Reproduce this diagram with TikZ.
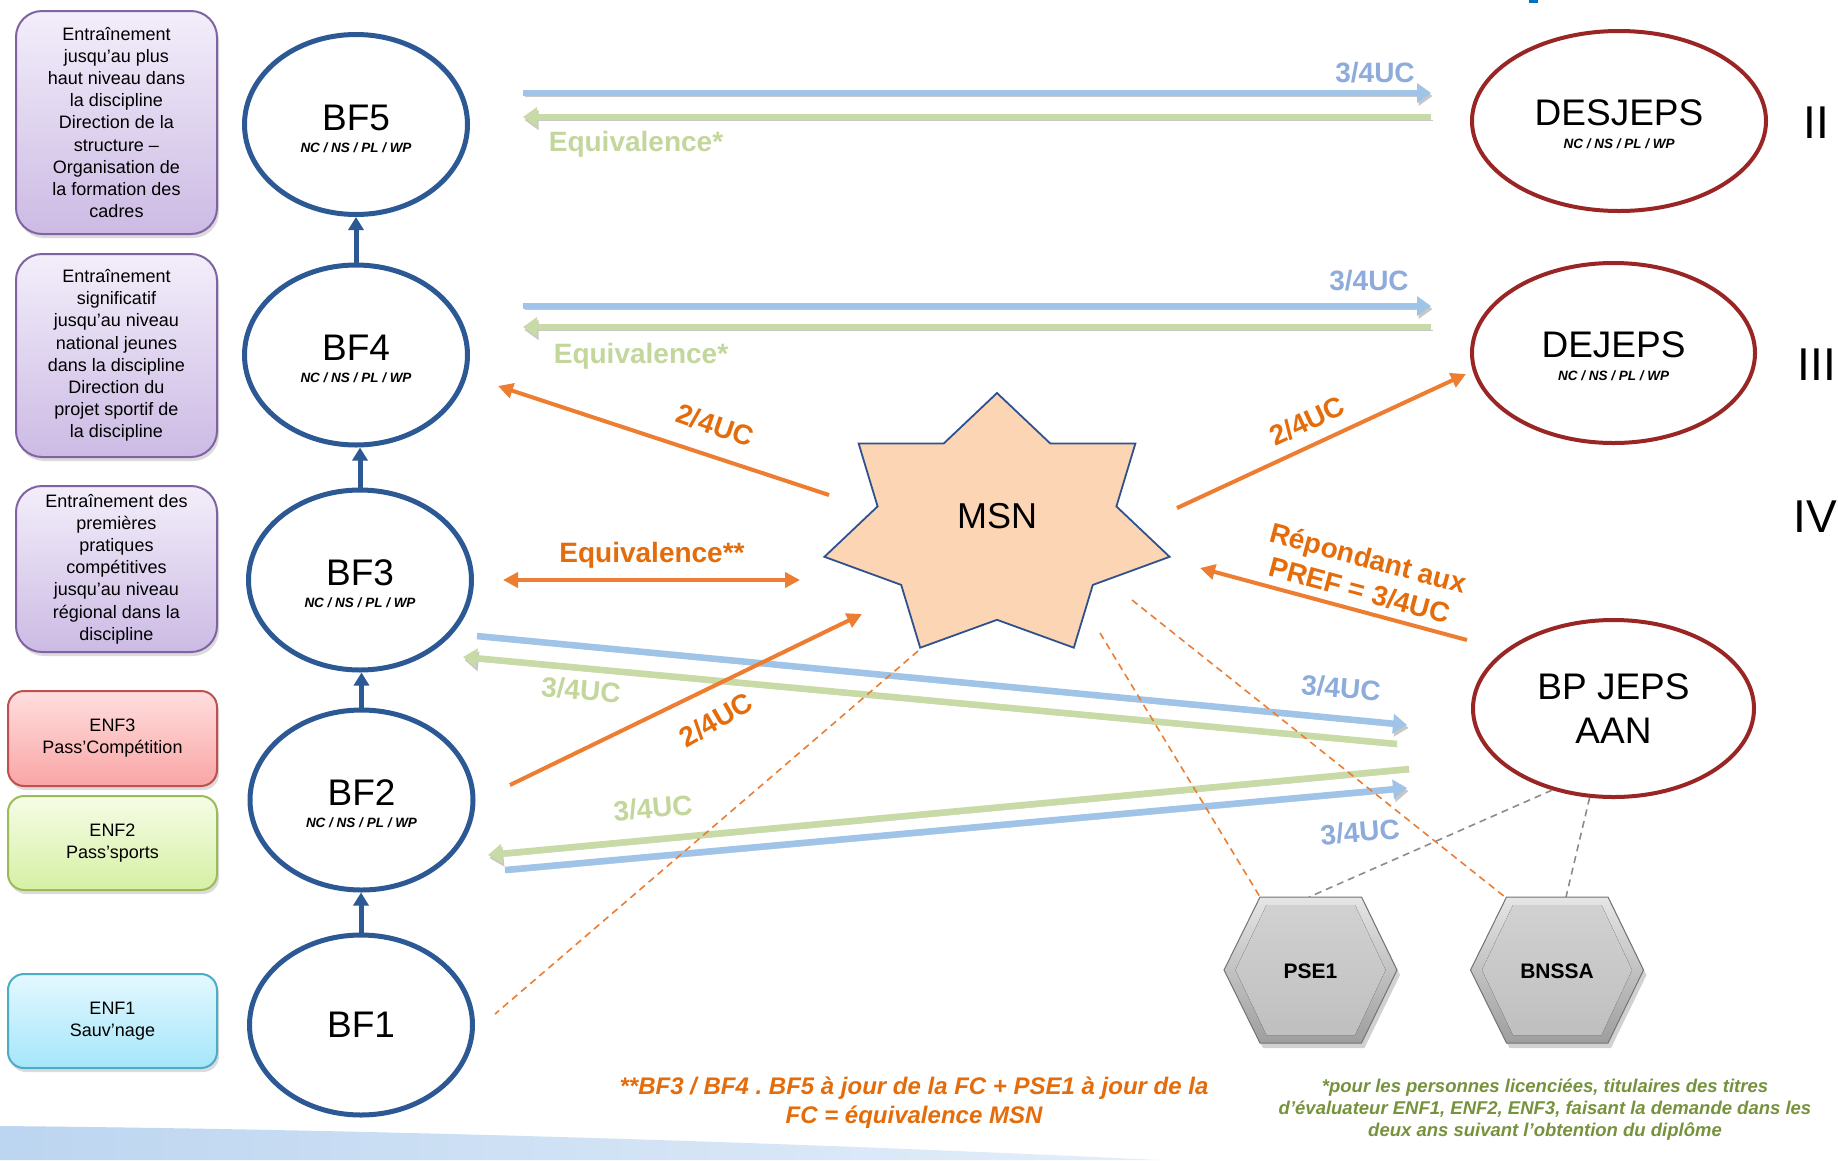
\documentclass[tikz,border=0pt]{standalone}
\usepackage{fontspec}
\setmainfont{Liberation Sans}
\usetikzlibrary{arrows.meta,shapes.geometric}
\definecolor{bfblue}{RGB}{44,88,148}
\definecolor{redel}{RGB}{153,37,37}
\definecolor{orarr}{RGB}{237,125,49}
\definecolor{ortxt}{RGB}{228,108,10}
\definecolor{lbarr}{RGB}{160,196,232}
\definecolor{lblab}{RGB}{141,172,219}
\definecolor{lgarr}{RGB}{200,218,165}
\definecolor{lglab}{RGB}{195,214,155}
\definecolor{fngreen}{RGB}{118,146,60}
\definecolor{purpd}{RGB}{128,100,162}
\definecolor{purpt}{RGB}{243,238,250}
\definecolor{purpb}{RGB}{204,186,228}
\definecolor{redd}{RGB}{192,80,77}
\definecolor{redt}{RGB}{255,222,222}
\definecolor{redb}{RGB}{250,165,165}
\definecolor{grnd}{RGB}{155,187,89}
\definecolor{grnt}{RGB}{246,252,230}
\definecolor{grnb}{RGB}{214,240,165}
\definecolor{cyad}{RGB}{75,172,198}
\definecolor{cyat}{RGB}{228,248,255}
\definecolor{cyab}{RGB}{165,230,250}
\definecolor{msnfill}{RGB}{252,213,181}
\definecolor{msnline}{RGB}{47,82,143}
\definecolor{wave}{RGB}{188,213,240}
\definecolor{titleblue}{RGB}{0,112,192}
\newcommand{\myfs}[2]{\fontsize{#1}{#2}\selectfont}
\frenchspacing
\begin{document}
\begin{tikzpicture}[x=1pt,y=-1pt,
  bfell/.style={ellipse, draw=bfblue, line width=5pt, minimum width=223pt, minimum height=180pt, inner sep=0pt, fill=white},
  redell/.style={ellipse, draw=redel, line width=4pt, minimum height=180pt, inner sep=0pt, fill=white},
  bigtxt/.style={font=\myfs{37}{44}, inner sep=0pt, align=center},
  subtxt/.style={font=\myfs{13.5}{15}\bfseries\itshape, inner sep=0pt},
  boxshadow/.style={preaction={fill=black!14, transform canvas={shift={(2,4)}}}},
  purpbox/.style={rectangle, rounded corners=26pt, line width=2pt, draw=purpd, top color=purpt, bottom color=purpb, align=center, font=\myfs{18}{22.2}, inner sep=0pt, minimum width=201pt, boxshadow},
  enfbox/.style={rectangle, rounded corners=16pt, line width=2pt, align=center, font=\myfs{18}{22}, inner sep=0pt, minimum width=209pt, minimum height=94pt, boxshadow},
  upar/.style={draw=bfblue, line width=5pt, -{Triangle[length=13pt,width=15pt]}},
  arrshadow/.style={preaction={draw=black!22, transform canvas={shift={(1.5,3)}}}},
  arrB/.style={draw=lbarr, line width=6.5pt, -{Triangle[length=14pt,width=19pt]}, arrshadow},
  arrG/.style={draw=lgarr, line width=6.5pt, -{Triangle[length=14pt,width=19pt]}, arrshadow},
  oarr/.style={draw=orarr, line width=4pt, -{Triangle[length=15pt,width=15pt]}},
  odash/.style={draw=orarr, line width=1.6pt, dash pattern=on 7pt off 5pt},
  gdash/.style={draw=black!45, line width=1.6pt, dash pattern=on 7pt off 5pt},
  lblB/.style={text=lblab, font=\myfs{28}{32}\bfseries, inner sep=0pt},
  lblG/.style={text=lglab, font=\myfs{28}{32}\bfseries, inner sep=0pt},
  olbl/.style={text=ortxt, font=\myfs{28}{33}\bfseries, inner sep=0pt}
]
\useasboundingbox (0,0) rectangle (1838,1160);
\fill[white] (0,0) rectangle (1838,1160);
% bottom wave
\shade[left color=wave, right color=wave!40] (0,1160) -- (0,1126) .. controls (420,1130) and (820,1144) .. (1160,1160) -- cycle;
\fill[titleblue] (1529,0) rectangle (1538,3);

% left boxes
\node[purpbox, minimum height=223pt] (b1) at (116.5,122.5) {Entraînement\\jusqu'au plus\\haut niveau dans\\la discipline\\Direction de la\\structure –\\Organisation de\\la formation des\\cadres};
\node[purpbox, minimum height=203pt] (b2) at (116.5,355.5) {Entraînement\\significatif\\jusqu'au niveau\\national jeunes\\dans la discipline\\Direction du\\projet sportif de\\la discipline};
\node[purpbox, minimum height=166pt] (b3) at (116.5,569) {Entraînement des\\premières\\pratiques\\compétitives\\jusqu'au niveau\\régional dans la\\discipline};
\node[enfbox, draw=redd, top color=redt, bottom color=redb, minimum height=95pt] (enf3) at (112.5,738.5) {ENF3\\Pass'Compétition};
\node[enfbox, draw=grnd, top color=grnt, bottom color=grnb] (enf2) at (112.5,843) {ENF2\\Pass'sports};
\node[enfbox, draw=cyad, top color=cyat, bottom color=cyab] (enf1) at (112.5,1021) {ENF1\\Sauv'nage};

% coordinates for free arrow ends
\coordinate (t1a) at (523,93);   \coordinate (t1b) at (1431,93);
\coordinate (t2a) at (1431,117); \coordinate (t2b) at (523,117);
\coordinate (t3a) at (523,306);  \coordinate (t3b) at (1431,306);
\coordinate (t4a) at (1431,327); \coordinate (t4b) at (523,327);
\coordinate (d1a) at (477,636);  \coordinate (d1b) at (1407,725);
\coordinate (d2a) at (1397,744); \coordinate (d2b) at (463,657);
\coordinate (d3a) at (1409,769); \coordinate (d3b) at (488,855);
\coordinate (d4a) at (505,870);  \coordinate (d4b) at (1407,788);
\coordinate (o1a) at (829,495);  \coordinate (o1b) at (498,386);
\coordinate (o2a) at (1177,508); \coordinate (o2b) at (1466,374);
\coordinate (o3a) at (503,580);  \coordinate (o3b) at (800,580);
\coordinate (o4a) at (510,785);  \coordinate (o4b) at (862,614);
\coordinate (o5a) at (1467,640); \coordinate (o5b) at (1200,568);
\coordinate (q1a) at (918,651);  \coordinate (q1b) at (495,1014);
\coordinate (q2a) at (1100,633); \coordinate (pse1tl) at (1260,897);
\coordinate (q3a) at (1132,600); \coordinate (bnssatl) at (1505,897);
\coordinate (pse1top) at (1309,897); \coordinate (bnssatop) at (1566,897);

% light blue / green arrows
\draw[arrB] (t1a) -- (t1b);
\draw[arrG] (t2a) -- (t2b);
\draw[arrB] (t3a) -- (t3b);
\draw[arrG] (t4a) -- (t4b);
\draw[arrB] (d1a) -- (d1b);
\draw[arrG] (d2a) -- (d2b);
\draw[arrG] (d3a) -- (d3b);
\draw[arrB] (d4a) -- (d4b);
\node[lblB] (l1) at (1375,73) {3/4UC};
\node[lblG] (l2) at (636,144) {Equivalence*};
\node[lblB] (l3) at (1369,281) {3/4UC};
\node[lblG] (l4) at (641,356) {Equivalence*};
\node[lblG, rotate=-5] (l5) at (581,690) {3/4UC};
\node[lblB, rotate=-5] (l6) at (1341,688) {3/4UC};
\node[lblG, rotate=5] (l7) at (653,808) {3/4UC};
\node[lblB, rotate=5] (l8) at (1360,832) {3/4UC};

% dashed lines
\draw[odash] (q1a) -- (q1b);
\draw[odash] (q2a) -- (pse1tl);
\draw[odash] (q3a) -- (bnssatl);

% orange arrows
\draw[oarr] (o1a) -- (o1b);
\draw[oarr] (o2a) -- (o2b);
\draw[oarr, {Triangle[length=15pt,width=15pt]}-{Triangle[length=15pt,width=15pt]}] (o3a) -- (o3b);
\draw[oarr] (o4a) -- (o4b);
\draw[oarr] (o5a) -- (o5b);
\node[olbl, rotate=-19] (ol1) at (715,425) {2/4UC};
\node[olbl, rotate=25] (ol2) at (1307,421) {2/4UC};
\node[olbl, rotate=30] (ol3) at (716,720) {2/4UC};
\node[olbl] (ol4) at (652,555) {Equivalence**};
\node[olbl, rotate=-15, align=center] (ol5) at (1364,574) {Répondant aux\\PREF = 3/4UC};

% MSN star
\filldraw[fill=msnfill, draw=msnline, line width=1.8pt]
  (997,393) -- (1050.2,443.4) -- (1135.4,443.4) -- (1116.4,506.4) -- (1169.6,556.8)
  -- (1092.8,584.9) -- (1073.8,647.7) -- (997,619.8) -- (920.2,647.7) -- (901.2,584.9)
  -- (824.4,556.8) -- (877.6,506.4) -- (858.6,443.4) -- (943.8,443.4) -- cycle;
\node[font=\myfs{36}{40}, inner sep=0pt] (msn) at (997,516) {MSN};

% BF ellipses
\node[bfell] (bf5) at (356,124.5) {};
\node[bfell] (bf4) at (356,355) {};
\node[bfell] (bf3) at (360,580) {};
\node[bfell] (bf2) at (361.5,800) {};
\node[bfell] (bf1) at (361,1025) {};
\foreach \n/\t in {bf5/BF5,bf4/BF4,bf3/BF3,bf2/BF2}{
  \node[bigtxt] (\n t) at ([yshift=7pt]\n.center) {\t};
  \node[subtxt] (\n s) at ([yshift=-23pt]\n.center) {NC / NS / PL / WP};
}
\node[bigtxt] (bf1t) at (bf1.center) {BF1};
\draw[upar] (bf4.north) -- (bf4.north |- bf5.south);
\draw[upar] (bf3.north) -- (bf3.north |- bf4.south);
\draw[upar] (bf2.north) -- (bf2.north |- bf3.south);
\draw[upar] (bf1.north) -- (bf1.north |- bf2.south);

% red ellipses
\node[redell, minimum width=294pt] (desjeps) at (1619,121) {};
\node[redell, minimum width=283pt] (dejeps) at (1613.5,353) {};
\node[redell, minimum width=281pt, minimum height=177pt] (bpjeps) at (1613.5,708.5) {};
\node[bigtxt] (desjepst) at ([yshift=8pt]desjeps.center) {DESJEPS};
\node[subtxt] (desjepss) at ([yshift=-23pt]desjeps.center) {NC / NS / PL / WP};
\node[bigtxt] (dejepst) at ([yshift=8pt]dejeps.center) {DEJEPS};
\node[subtxt] (dejepss) at ([yshift=-23pt]dejeps.center) {NC / NS / PL / WP};
\node[bigtxt] (bpjepst) at (bpjeps.center) {BP JEPS\\AAN};

% roman numerals
\node[font=\myfs{46}{50}, inner sep=0pt] (r2) at (1816,123) {II};
\node[font=\myfs{46}{50}, inner sep=0pt] (r3) at (1817,365) {III};
\node[font=\myfs{46}{50}, inner sep=0pt] (r4) at (1815,517) {IV};

% gray dashed
\draw[gdash] (bpjeps.-127) -- (pse1top);
\draw[gdash] (bpjeps.-105) -- (bnssatop);

% hexagons
\foreach \cx/\nm/\lab in {1310.5/pse1/PSE1, 1557/bnssa/BNSSA}{
  \fill[black!18] ([xshift=3pt,yshift=-5pt]\cx-86.5,970) -- ([xshift=3pt,yshift=-5pt]\cx-50.5,897) -- ([xshift=3pt,yshift=-5pt]\cx+51,897) -- ([xshift=3pt,yshift=-5pt]\cx+86.5,970) -- ([xshift=3pt,yshift=-5pt]\cx+51,1043) -- ([xshift=3pt,yshift=-5pt]\cx-50.5,1043) -- cycle;
  \shade[top color=black!10, bottom color=black!38]
    (\cx-86.5,970) -- (\cx-50.5,897) -- (\cx+51,897) -- (\cx+86.5,970) -- (\cx+51,1043) -- (\cx-50.5,1043) -- cycle;
  \draw[black!55, line width=1pt]
    (\cx-86.5,970) -- (\cx-50.5,897) -- (\cx+51,897) -- (\cx+86.5,970) -- (\cx+51,1043) -- (\cx-50.5,1043) -- cycle;
  \fill[top color=black!18, bottom color=black!25]
    (\cx-75,970) -- (\cx-44,905) -- (\cx+44.5,905) -- (\cx+75,970) -- (\cx+44.5,1035) -- (\cx-44,1035) -- cycle;
  \node[font=\myfs{21}{24}\bfseries, inner sep=0pt] (\nm) at (\cx,971) {\lab};
}

% footnotes
\node[font=\myfs{24}{29}\bfseries\itshape, text=ortxt, align=center, inner sep=0pt] (fn1) at (914,1103) {**BF3 / BF4 . BF5 à jour de la FC + PSE1 à jour de la\\FC = équivalence MSN};
\node[font=\myfs{18.5}{22}\bfseries\itshape, text=fngreen, align=center, inner sep=0pt] (fn2) at (1545,1110) {*pour les personnes licenciées, titulaires des titres\\d'évaluateur ENF1, ENF2, ENF3, faisant la demande dans les\\deux ans suivant l'obtention du diplôme};
\end{tikzpicture}
\end{document}
